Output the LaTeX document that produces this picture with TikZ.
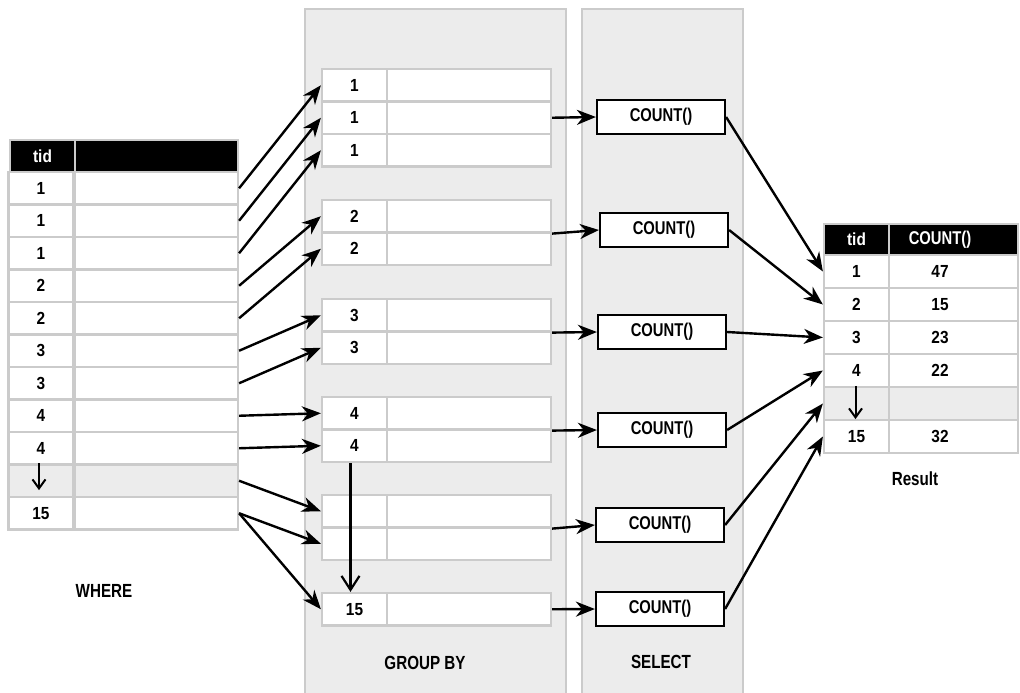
\documentclass[tikz,border=0pt]{standalone}
\usepackage{fontspec}
\setmainfont{Liberation Sans}[FakeStretch=0.88]
\newfontfamily\narrowfont{Liberation Sans}[FakeStretch=0.8]
\usetikzlibrary{arrows.meta}
\definecolor{panelgray}{HTML}{ECECEC}
\definecolor{linegray}{HTML}{CBCBCB}

\begin{document}
\begin{tikzpicture}[x=1pt,y=-1pt,
    cell/.style={draw=linegray, line width=2.2pt, fill=white, inner sep=0pt,
      minimum height=32.5pt, font=\bfseries\fontsize{17.5}{20}\selectfont},
    head/.style={cell, fill=black, text=white},
    countbox/.style={draw=black, line width=2.2pt, fill=white, inner sep=0pt,
      minimum width=128pt, minimum height=34pt, font=\narrowfont\bfseries\fontsize{18.5}{20}\selectfont},
    caption/.style={font=\narrowfont\bfseries\fontsize{19}{22}\selectfont},
    link/.style={line width=2.4pt, -{Stealth[length=19pt,width=15pt,inset=6pt]}},
    down/.style={line width=2pt, -{Straight Barb[length=9pt,width=13pt]}},
    drop/.style={line width=2.2pt, -{Straight Barb[length=14pt,width=18pt]}}]
  \useasboundingbox (0,0) rectangle (1020,693);

  % panels
  \draw[linegray, line width=2.2pt, fill=panelgray] (305,9) rectangle (566,700);
  \draw[linegray, line width=2.2pt, fill=panelgray] (582,9) rectangle (743,700);

  % WHERE table
  \node[head, minimum width=65pt, minimum height=32pt] (wh) at (42.5,156) {tid};
  \node[head, minimum width=163pt, minimum height=32pt] (whv) at (156.5,156) {};
  \foreach \v/\f [count=\i] in {1/white,1/white,1/white,2/white,2/white,3/white,3/white,4/white,4/white,{}/panelgray,15/white} {
    \pgfmathsetmacro\yc{188.25+32.5*(\i-1)}
    \node[cell, fill=\f, minimum width=65pt] (w\i) at (41,\yc) {\v};
    \node[cell, fill=\f, minimum width=163pt] (wv\i) at (156.5,\yc) {};
  }

  % groups
  \foreach \g/\top/\n/\k in {1/69/3/1, 2/200/2/2, 3/299/2/3, 4/397/2/4, 5/495/2/{}, 6/593/1/15}
    \foreach \r in {1,...,\n} {
      \pgfmathsetmacro\yc{\top+16.25+32.5*(\r-1)}
      \node[cell, minimum width=65pt] (g\g r\r) at (354.5,\yc) {\k};
      \node[cell, minimum width=164pt] (gv\g r\r) at (469,\yc) {};
    }

  % aggregates
  \foreach \i/\xc/\yc in {1/661/117, 2/664/230, 3/662/332, 4/662/430, 5/660/525, 6/660/609}
    \node[countbox] (c\i) at (\xc,\yc) {COUNT()};

  % result table
  \node[head, minimum width=65pt, minimum height=31pt] (rh) at (856.5,239.5) {tid};
  \node[head, minimum width=129pt, minimum height=31pt] (rhv) at (953.5,239.5) {};
  \node[text=white, font=\narrowfont\bfseries\fontsize{18.5}{20}\selectfont] (rhn) at (940,239.5) {COUNT()};
  \foreach \v/\n/\f [count=\i] in {1/47/white, 2/15/white, 3/23/white, 4/22/white, {}/{}/panelgray, 15/32/white} {
    \pgfmathsetmacro\yc{271.5+33*(\i-1)}
    \node[cell, fill=\f, minimum width=65pt, minimum height=33pt] (r\i) at (856.5,\yc) {\v};
    \node[cell, fill=\f, minimum width=129pt, minimum height=33pt] (rv\i) at (953.5,\yc) {};
    \node[font=\bfseries\fontsize{17.5}{20}\selectfont] (rn\i) at (940,\yc) {\n};
  }

  % rows into groups
  \foreach \a/\b in {1/g1r1, 2/g1r2, 3/g1r3, 4/g2r1, 5/g2r2, 6/g3r1, 7/g3r2,
                     8/g4r1, 9/g4r2, 10/g5r1, 11/g5r2, 11/g6r1}
    \draw[link] (wv\a.east) -- (\b.west);

  % groups into COUNT()
  \draw[link] (gv1r2.east) -- (c1.west);
  \foreach \g in {2,...,5}
    \draw[link] (gv\g r1.south east) -- (c\g.west);
  \draw[link] (gv6r1.east) -- (c6.west);

  % COUNT() into result
  \foreach \i in {1,...,6}
    \draw[link] (c\i.east) -- (r\i.west);

  % skipped rows
  \draw[down] ([xshift=-2pt]w10.north) -- ([xshift=-2pt,yshift=8pt]w10.south);
  \draw[down] ([xshift=-1pt]r5.north) -- ([xshift=-1pt,yshift=2pt]r5.south);
  \draw[drop] ([xshift=-4pt]g4r2.south) -- ([xshift=-4pt]g6r1.north);

  \node[caption] (where) at (104,591) {WHERE};
  \node[caption] (groupby) at (425,663) {GROUP BY};
  \node[caption] (select) at (661,662) {SELECT};
  \node[caption] (result) at (915,479) {Result};
\end{tikzpicture}
\end{document}
